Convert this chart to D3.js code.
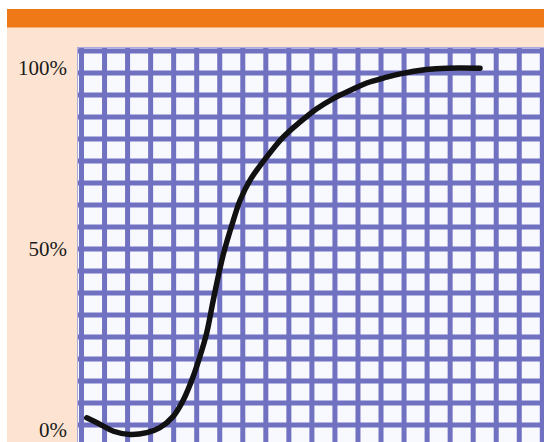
<!DOCTYPE html>
<html>
<head>
<meta charset="utf-8">
<script src="https://cdn.jsdelivr.net/npm/d3@7"></script>
<style>
  html, body { margin: 0; padding: 0; background: #ffffff; }
  svg { display: block; }
</style>
</head>
<body>
<svg id="chart" width="544" height="442"></svg>
<script>
// ---- data ----
const timePoints = [0, 3.4, 6.8, 11.0, 15.3, 18.5, 22.0, 24.6, 27.1, 28.8, 30.5, 32.2, 34.7, 37.3,
                    39.0, 41.5, 45.8, 50.0, 54.2, 58.5, 62.7, 66.9, 71.2, 76.3, 79.7, 86.4, 91.5, 100];
const percentValues = [3.5, 1.7, -0.2, -1.1, -0.6, 0.7, 3.9, 8.5, 15.0, 20.5, 26.9, 36.1, 48.5, 58.1,
                       63.6, 69.1, 75.6, 81.1, 85.2, 88.9, 91.7, 93.9, 96.0, 97.6, 98.5, 99.7, 100.1, 100.1];
const tickValues = [0, 50, 100];
const tickLabels = ["0%", "50%", "100%"];
const gridColumns = 20;
const gridRows = 18;

// ---- layout ----
const W = 544, H = 442;
const svg = d3.select("#chart");

// header bar + page background
svg.append("rect").attr("x", 7).attr("y", 27).attr("width", W - 7).attr("height", H - 27).attr("fill", "#fde4d2");
svg.append("rect").attr("x", 7).attr("y", 9).attr("width", W - 7).attr("height", 18.5).attr("fill", "#ef7916");

// grid paper
const gridLeft = 78, gridTop = 48;
svg.append("rect")
  .attr("x", gridLeft).attr("y", gridTop)
  .attr("width", W - gridLeft).attr("height", H - gridTop)
  .attr("fill", "#f8f8ff");

const gx = d3.scaleLinear().domain([0, gridColumns]).range([81.5, 542.3]);
const gy = d3.scaleLinear().domain([0, 17]).range([51, 425]);
const gridG = svg.append("g").attr("stroke", "#7171c1").attr("stroke-width", 5);
gridG.selectAll("line.v").data(d3.range(gridColumns + 2)).join("line")
  .attr("class", "v")
  .attr("x1", d => gx(d)).attr("x2", d => gx(d))
  .attr("y1", gridTop).attr("y2", H);
gridG.selectAll("line.h").data(d3.range(gridRows + 1)).join("line")
  .attr("class", "h")
  .attr("y1", d => gy(d)).attr("y2", d => gy(d))
  .attr("x1", gridLeft).attr("x2", W);
svg.append("rect")
  .attr("x", gridLeft - 0.5).attr("y", gridTop - 0.5)
  .attr("width", W - gridLeft + 1).attr("height", H - gridTop + 1)
  .attr("fill", "none").attr("stroke", "#a9a9dc").attr("stroke-width", 1);

// scales for the curve
const x = d3.scaleLinear().domain([0, 100]).range([86.7, 480]);
const y = d3.scaleLinear().domain([0, 100]).range([430.5, 68.5]);

// y labels (baseline placed just below the value's position)
svg.append("g").selectAll("text").data(tickValues).join("text")
  .attr("x", 67)
  .attr("y", d => y(d) + 6.5)
  .attr("text-anchor", "end")
  .attr("font-family", "Liberation Serif, serif")
  .attr("font-size", 21)
  .attr("fill", "#1a1a1a")
  .text((d, i) => tickLabels[i]);

// curve
const pts = timePoints.map((t, i) => [t, percentValues[i]]);
const line = d3.line()
  .x(d => x(d[0]))
  .y(d => y(d[1]))
  .curve(d3.curveCatmullRom.alpha(0.5));
svg.append("path")
  .attr("d", line(pts))
  .attr("fill", "none")
  .attr("stroke", "#111111")
  .attr("stroke-width", 5.5)
  .attr("stroke-linecap", "round")
  .attr("stroke-linejoin", "round");
</script>
</body>
</html>
